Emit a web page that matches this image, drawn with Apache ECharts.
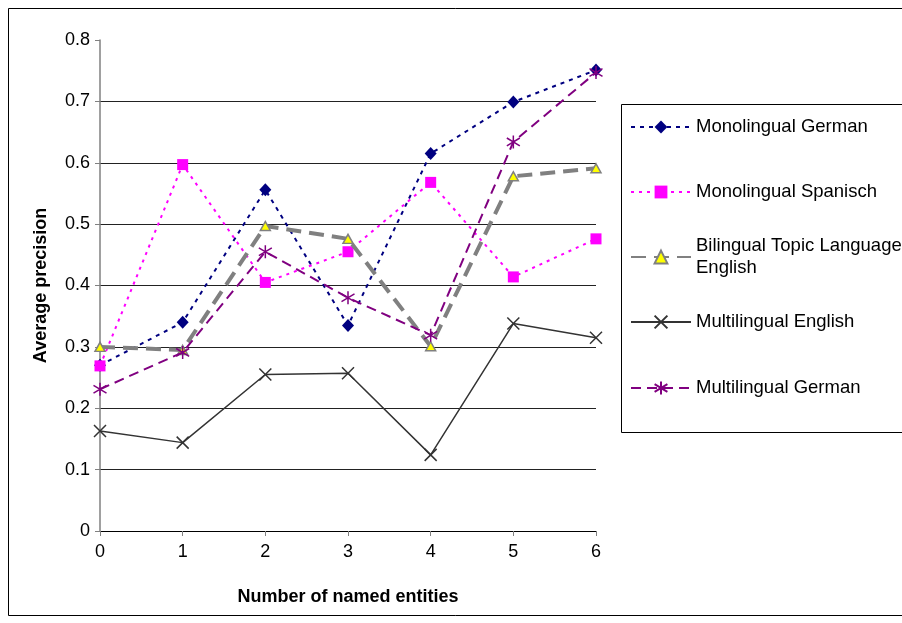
<!DOCTYPE html>
<html>
<head>
<meta charset="utf-8">
<script src="https://cdn.jsdelivr.net/npm/echarts@6/dist/echarts.min.js"></script>
<style>
  html, body { margin: 0; padding: 0; background: #fff; }
  #chart { width: 902px; height: 623px; }
</style>
</head>
<body>
<div id="chart"></div>
<script>
// Number of named entities (x axis)
const entityCounts = [0, 1, 2, 3, 4, 5, 6];

// Average precision per run
const monolingualGerman   = [0.270, 0.340, 0.556, 0.335, 0.615, 0.699, 0.751];
const monolingualSpanisch = [0.269, 0.597, 0.405, 0.455, 0.568, 0.414, 0.476];
const bilingualTopic      = [0.300, 0.295, 0.497, 0.476, 0.301, 0.578, 0.591];
const multilingualEnglish = [0.163, 0.144, 0.255, 0.257, 0.124, 0.338, 0.315];
const multilingualGerman  = [0.231, 0.291, 0.455, 0.380, 0.319, 0.634, 0.747];

const seriesNames = [
  'Monolingual German',
  'Monolingual Spanisch',
  'Bilingual Topic Language English',
  'Multilingual English',
  'Multilingual German'
];

const yTicks = [0, 0.1, 0.2, 0.3, 0.4, 0.5, 0.6, 0.7, 0.8];

const FONT = "'Liberation Sans', Arial, sans-serif";

function pairs(values) {
  return entityCounts.map((x, i) => [x, values[i]]);
}

// stroked marker shapes
const crossPath = 'path://M0,0L10,10M10,0L0,10';
const starPath = 'path://M5,0L5,10M0,2L10,8M10,2L0,8';

const series = [
  {
    name: seriesNames[0], type: 'line', data: pairs(monolingualGerman),
    symbol: 'diamond', symbolSize: [12, 13],
    lineStyle: { color: '#000080', width: 2, type: [4, 5] },
    itemStyle: { color: '#000080' }
  },
  {
    name: seriesNames[1], type: 'line', data: pairs(monolingualSpanisch),
    symbol: 'rect', symbolSize: 11,
    lineStyle: { color: '#ff00ff', width: 2, type: [3, 5] },
    itemStyle: { color: '#ff00ff' }
  },
  {
    name: seriesNames[2], type: 'line', data: pairs(bilingualTopic),
    symbol: 'triangle', symbolSize: [10, 9],
    lineStyle: { color: '#808080', width: 4, type: [15, 8] },
    itemStyle: { color: '#ffff00', borderColor: '#808080', borderWidth: 1.5 }
  },
  {
    name: seriesNames[3], type: 'line', data: pairs(multilingualEnglish),
    symbol: crossPath, symbolSize: 12,
    lineStyle: { color: '#333333', width: 1.5, type: 'solid' },
    itemStyle: { color: 'none', borderColor: '#333333', borderWidth: 1.5 }
  },
  {
    name: seriesNames[4], type: 'line', data: pairs(multilingualGerman),
    symbol: starPath, symbolSize: 13,
    lineStyle: { color: '#800080', width: 2, type: [10, 6] },
    itemStyle: { color: 'none', borderColor: '#800080', borderWidth: 1.5 }
  }
];
series.forEach((s, i) => {
  s.showSymbol = true;
  s.showAllSymbol = true;
  s.animation = false;
  s.z = 2 + i;
  s.emphasis = { disabled: true };
});

// one legend entry per row; the long name wraps onto a second line
const legendTops = [116, 181, 224, 311, 377];
const legends = seriesNames.map((name, i) => {
  const wrapped = i === 2;
  return {
    data: [name],
    orient: 'vertical',
    left: 630,
    top: legendTops[i],
    padding: 0,
    itemWidth: 60,
    itemHeight: 16,
    itemGap: 0,
    selectedMode: false,
    formatter: wrapped ? 'Bilingual Topic Language\nEnglish' : '{name}',
    textStyle: {
      fontFamily: FONT, fontSize: 18.5, color: '#000', lineHeight: 22,
      padding: wrapped ? [22, 0, 0, 0] : 0
    }
  };
});

const chart = echarts.init(document.getElementById('chart'), null, { renderer: 'canvas' });
chart.setOption({
  animation: false,
  backgroundColor: '#ffffff',
  grid: { left: 100, right: 306, top: 40, bottom: 92, containLabel: false },
  legend: legends,
  xAxis: {
    type: 'value', min: 0, max: 6, interval: 1,
    name: 'Number of named entities', nameLocation: 'middle', nameGap: 57,
    nameTextStyle: { fontFamily: FONT, fontSize: 18, fontWeight: 'bold', color: '#000' },
    axisLine: { show: true, lineStyle: { color: '#000', width: 1 } },
    axisTick: { show: true, inside: false, length: 5, lineStyle: { color: '#808080' } },
    axisLabel: { fontFamily: FONT, fontSize: 18, color: '#000', margin: 12,
      formatter: v => String(entityCounts[v]) },
    splitLine: { show: false }
  },
  yAxis: {
    type: 'value', min: 0, max: 0.8, interval: 0.1,
    name: 'Average precision', nameLocation: 'middle', nameGap: 50,
    nameTextStyle: { fontFamily: FONT, fontSize: 18, fontWeight: 'bold', color: '#000' },
    axisLine: { show: true, lineStyle: { color: '#808080', width: 1.5 } },
    axisTick: { show: true, inside: false, length: 5, lineStyle: { color: '#808080' } },
    axisLabel: { fontFamily: FONT, fontSize: 18, color: '#000', margin: 10,
      formatter: v => String(yTicks[Math.round(v * 10)]) },
    splitLine: { show: true, showMinLine: false, showMaxLine: false,
      lineStyle: { color: '#222', width: 1 } }
  },
  graphic: [
    { type: 'rect', silent: true, z: 0,
      shape: { x: 8.5, y: 8.5, width: 1000, height: 607 },
      style: { fill: 'none', stroke: '#000', lineWidth: 1 } },
    { type: 'rect', silent: true, z: 0,
      shape: { x: 621.5, y: 104.5, width: 400, height: 328 },
      style: { fill: 'none', stroke: '#000', lineWidth: 1 } }
  ],
  series: series
});
</script>
</body>
</html>
